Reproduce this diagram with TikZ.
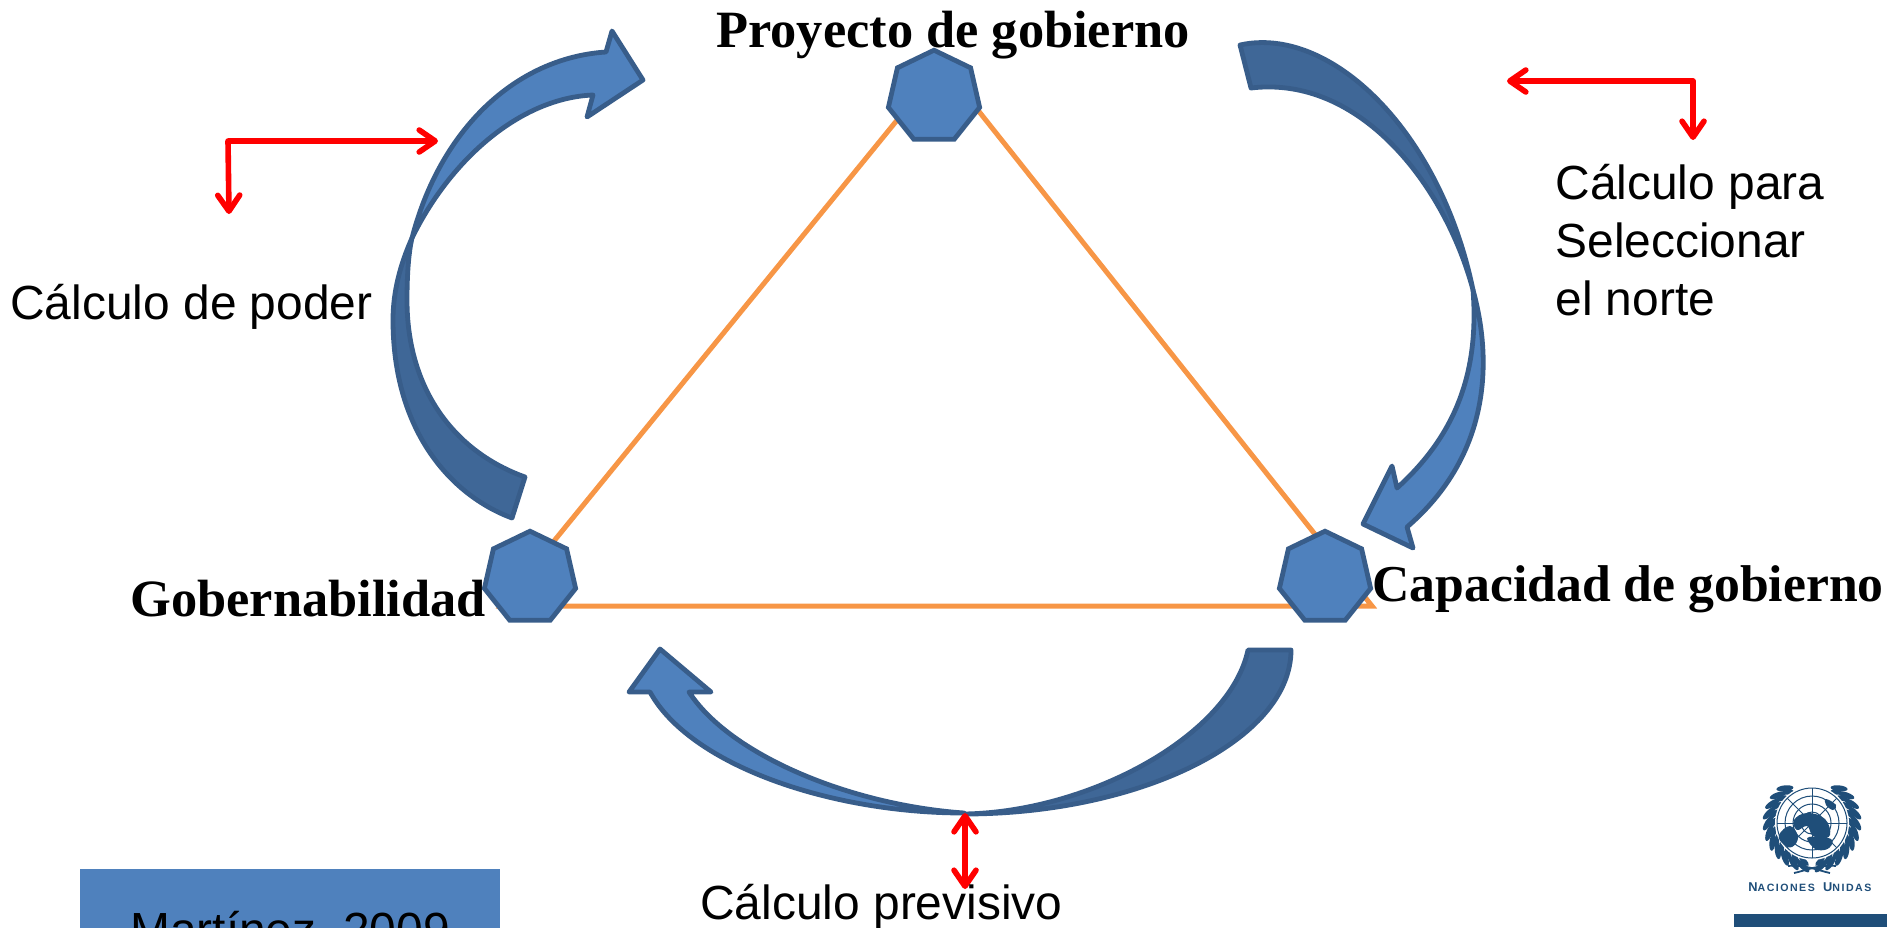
\documentclass[tikz,border=0pt]{standalone}
\usepackage{fontspec}
\setmainfont{Liberation Sans}
\newfontfamily\titulofam{Liberation Serif}
\newfontfamily\onufam[LetterSpace=14]{Liberation Sans}
\usetikzlibrary{shapes.geometric,arrows.meta}
\definecolor{azulclaro}{HTML}{4F81BD}
\definecolor{azulborde}{HTML}{385D8A}
\definecolor{azuloscuro}{HTML}{3F6797}
\definecolor{naranja}{HTML}{F79646}
\definecolor{azulonu}{HTML}{1F4E79}
\tikzset{
  vertice/.style={regular polygon,regular polygon sides=7,minimum size=46.8pt,inner sep=0pt,outer sep=0pt,fill=azulclaro,draw=azulborde,line width=2.4pt},
  titulo/.style={font=\titulofam\bfseries\fontsize{26.2}{30}\selectfont,anchor=base west,inner sep=0pt},
  nota/.style={font=\fontsize{23.95}{28.9}\selectfont,inner sep=0pt},
  lado/.style={draw=naranja,line width=2.5pt,line join=miter},
  clara/.style={fill=azulclaro,draw=azulborde,line width=2.4pt,line join=round},
  oscura/.style={fill=azuloscuro,draw=azulborde,line width=2.4pt,line join=round},
  flecha/.style={draw=red,line width=2.8pt,line join=round,arrows={Straight Barb[length=8pt,width=11pt,round]-Straight Barb[length=8pt,width=11pt,round]}},
  hoja/.style={fill=azulonu}
}
\begin{document}
\begin{tikzpicture}[x=0.5pt,y=-0.5pt]
\useasboundingbox (0,0) rectangle (1893,927);
\clip (0,0) rectangle (1893,927);

% triangulo
\coordinate (esqG) at (501,606);
\coordinate (esqP) at (942,65);
\coordinate (esqC) at (1372,606);
\draw[lado] (esqG) -- (esqP) -- (esqC) -- cycle;

\begin{scope}[every node/.style={vertice}]
  \node (P) at (934,97) {};
  \node (G) at (530,578) {};
  \node (C) at (1325,578) {};
\end{scope}

% flecha izquierda
\draw[oscura] (512,518) .. controls (450,495) and (393,430) .. (393,320)
  .. controls (393,292) and (400,265) .. (412,238)
  .. controls (408,255) and (407,280) .. (407,300)
  .. controls (407,390) and (455,452) .. (525,477) -- cycle;
\draw[clara] (412,238) .. controls (440,130) and (515,58) .. (606,52)
  -- (612,31) -- (643,80) -- (587,117) -- (593,95)
  .. controls (520,98) and (450,160) .. (412,238) -- cycle;

% flecha derecha
\draw[oscura] (1240,45) .. controls (1330,25) and (1440,130) .. (1473,290)
  .. controls (1445,185) and (1360,75) .. (1251,88) -- cycle;
\draw[clara] (1473,290) .. controls (1495,370) and (1485,460) .. (1407,527)
  -- (1413,548) -- (1363,524) -- (1392,466) -- (1397,488)
  .. controls (1450,440) and (1480,380) .. (1473,290) -- cycle;

% flecha inferior
\draw[oscura] (1291,650) .. controls (1291,740) and (1140,814) .. (964,814)
  .. controls (1090,812) and (1230,735) .. (1248,650) -- cycle;
\draw[clara] (964,813) .. controls (830,813) and (690,765) .. (650,692)
  -- (629,692) -- (660,649) -- (711,692) -- (689,692)
  .. controls (730,755) and (850,805) .. (964,813) -- cycle;

% flechas rojas
\coordinate (rI) at (438,141);
\coordinate (rIc) at (228,141);
\coordinate (rIb) at (229,214);
\draw[flecha] (rIb) -- (rIc) -- (rI);
\coordinate (rD) at (1507,81);
\coordinate (rDc) at (1693,81);
\coordinate (rDb) at (1693,140);
\draw[flecha] (rD) -- (rDc) -- (rDb);
\coordinate (rAa) at (965,813);
\coordinate (rAb) at (965,889);
\draw[flecha] (rAa) -- (rAb);

% textos
\node[titulo] (tP) at (716,47) {Proyecto de gobierno};
\node[titulo] (tG) at (130,616) {Gobernabilidad};
\node[titulo,font=\titulofam\bfseries\fontsize{25.85}{30}\selectfont] (tC) at (1372,601) {Capacidad de gobierno};
\node[nota,anchor=base west] (nPoder) at (10,319) {Cálculo de poder};
\node[nota,anchor=north west,align=left] (nNorte) at (1555,164) {Cálculo para\\Seleccionar\\el norte};
\node[nota,anchor=base west] (nPrev) at (700,919) {Cálculo previsivo};
\node[nota,fill=azulclaro,minimum width=210pt,minimum height=63pt] (cita) at (290,932) {Martínez, 2009};

% emblema
\begin{scope}[shift={(1812,823)}]
  \foreach \a in {128,141,...,258} {
    \fill[hoja,rotate=\a,shift={(44,0)},rotate=-32] (0,0) ellipse [x radius=3,y radius=8.5];
    \fill[hoja,rotate=\a,shift={(39,0)},rotate=-32] (0,0) ellipse [x radius=2.4,y radius=6.5];
    \fill[hoja,rotate=-\a+180,shift={(44,0)},rotate=32] (0,0) ellipse [x radius=3,y radius=8.5];
    \fill[hoja,rotate=-\a+180,shift={(39,0)},rotate=32] (0,0) ellipse [x radius=2.4,y radius=6.5];
  }
  \fill[white] (0,0) circle [radius=37];
  \draw[azulonu,line width=.9pt] (-24,43) .. controls (-8,41) and (8,48) .. (18,50);
  \draw[azulonu,line width=.9pt] (24,43) .. controls (8,41) and (-8,48) .. (-18,50);
  \draw[azulonu,line width=.5pt] (0,0) circle [radius=35] (0,0) circle [radius=27] (0,0) circle [radius=19] (0,0) circle [radius=11];
  \foreach \a in {0,45,...,315} \draw[azulonu,line width=.4pt] (0,0) -- (\a:35);
  \fill[azulonu] plot[smooth cycle,tension=.7] coordinates {(-18,-3) (-5,-10) (13,-4) (18,12) (8,15) (0,12) (-5,3) (-15,7)};
  \fill[azulonu] plot[smooth cycle,tension=.7] coordinates {(-3,14) (19,16) (17,25) (6,27) (-2,21)};
  \fill[azulonu] plot[smooth cycle,tension=.7] coordinates {(-33,12) (-22,3) (-14,14) (-20,24) (-29,21)};
  \fill[azulonu] plot[smooth cycle,tension=.7] coordinates {(14,-24) (24,-18) (21,-13) (14,-18)};
\end{scope}
\node[font=\onufam\bfseries\color{azulonu},inner sep=0pt,anchor=base west] (onu) at (1748,891) {{\fontsize{6.4}{7}\selectfont N}{\fontsize{5.3}{7}\selectfont ACIONES} {\fontsize{6.4}{7}\selectfont U}{\fontsize{5.3}{7}\selectfont NIDAS}};
\fill[azulonu] (1734,914) rectangle (1887,927);
\end{tikzpicture}
\end{document}
